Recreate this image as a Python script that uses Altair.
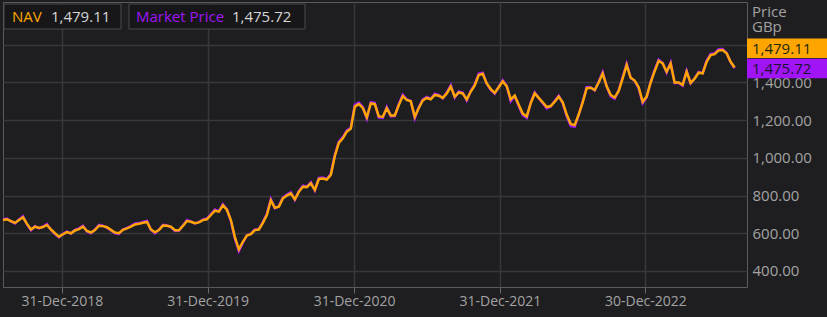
import altair as alt
import pandas as pd

# ---- data ----
nav = [670, 674, 665, 655, 670, 685, 650, 620, 635, 628,
       633, 644, 620, 600, 582, 595, 606, 600, 615, 622,
       635, 612, 604, 617, 640, 638, 632, 618, 604, 600,
       618, 626, 635, 647, 650, 656, 660, 620, 605, 617,
       641, 640, 635, 616, 616, 639, 665, 661, 653, 658,
       670, 674, 697, 720, 715, 748, 725, 670, 580, 515,
       555, 588, 595, 617, 620, 655, 697, 775, 735, 741,
       785, 800, 812, 780, 820, 847, 845, 865, 830, 888,
       890, 885, 910, 1010, 1080, 1104, 1139, 1155, 1272, 1285,
       1265, 1215, 1289, 1285, 1220, 1218, 1263, 1225, 1225, 1280,
       1328, 1307, 1300, 1218, 1265, 1305, 1318, 1311, 1334, 1330,
       1318, 1342, 1378, 1325, 1347, 1342, 1310, 1352, 1385, 1440,
       1446, 1395, 1365, 1345, 1375, 1406, 1380, 1310, 1330, 1282,
       1235, 1220, 1290, 1342, 1318, 1295, 1270, 1275, 1298, 1325,
       1295, 1230, 1180, 1174, 1230, 1295, 1370, 1372, 1360, 1400,
       1448, 1380, 1334, 1320, 1355, 1422, 1493, 1425, 1410, 1375,
       1298, 1325, 1400, 1460, 1515, 1501, 1457, 1500, 1400, 1400,
       1387, 1457, 1398, 1420, 1452, 1448, 1510, 1545, 1550, 1570,
       1572, 1555, 1510, 1479.11]

market = [674, 678, 663, 652, 673, 690, 647, 616, 638, 626,
          636, 649, 618, 596, 578, 597, 609, 598, 618, 626,
          640, 610, 600, 620, 645, 640, 630, 615, 600, 597,
          620, 629, 638, 652, 654, 660, 666, 617, 600, 619,
          645, 642, 633, 612, 613, 642, 670, 663, 651, 660,
          674, 678, 702, 726, 716, 754, 727, 665, 572, 505,
          550, 590, 597, 620, 622, 659, 703, 782, 733, 744,
          790, 806, 818, 777, 824, 853, 848, 871, 826, 894,
          896, 888, 916, 1015, 1086, 1110, 1146, 1160, 1282, 1294,
          1270, 1208, 1296, 1292, 1214, 1212, 1270, 1220, 1222, 1286,
          1336, 1310, 1302, 1210, 1268, 1310, 1324, 1314, 1340, 1334,
          1316, 1347, 1386, 1320, 1352, 1346, 1304, 1356, 1390, 1447,
          1452, 1394, 1360, 1340, 1378, 1412, 1382, 1300, 1328, 1275,
          1226, 1212, 1294, 1348, 1318, 1290, 1262, 1272, 1302, 1330,
          1290, 1222, 1170, 1165, 1228, 1298, 1376, 1375, 1358, 1404,
          1455, 1378, 1326, 1314, 1358, 1428, 1500, 1424, 1408, 1370,
          1290, 1322, 1404, 1466, 1522, 1504, 1452, 1506, 1396, 1398,
          1383, 1462, 1395, 1422, 1456, 1450, 1516, 1552, 1555, 1576,
          1578, 1557, 1508, 1475.72]

start_date = "2018-08-06"
step = "10D"
x_domain = [(2018, 8, 6), (2023, 9, 10)]
tick_dates = [(2018, 12, 31), (2019, 12, 31), (2020, 12, 31), (2021, 12, 31), (2022, 12, 30)]
y_ticks = [400, 600, 800, 1000, 1200, 1400, 1600]
y_domain = [315, 1827]
nav_label = "NAV"
market_label = "Market Price"
nav_last = "1,479.11"
market_last = "1,475.72"
unit_label = "Price\nGBp"

ORANGE = "#ffa500"
PURPLE = "#a014f5"
LABEL = "#a3a3a3"
GRID = "#383839"
FONT = "Open Sans"

dates = pd.date_range(start_date, periods=len(nav), freq=step)
df = pd.DataFrame({"date": dates, "nav": nav, "market": market})

W, H = 744, 285


def dt(t):
    return alt.DateTime(year=t[0], month=t[1], date=t[2])


x_scale = alt.Scale(domain=[dt(t) for t in x_domain])
y_scale = alt.Scale(domain=y_domain, nice=False, zero=False)

x_enc = alt.X(
    "date:T",
    scale=x_scale,
    axis=alt.Axis(
        values=[dt(t) for t in tick_dates],
        format="%d-%b-%Y",
        title=None,
        grid=True,
        gridColor=GRID,
        gridWidth=1.5,
        domain=False,
        tickColor="#6a6a6a",
        tickSize=6,
        labelColor=LABEL,
        labelFontSize=14,
        labelFont=FONT,
        labelPadding=1,
    ),
)

y_axis = alt.Axis(
    orient="right",
    values=y_ticks,
    labelExpr="datum.value >= 1600 ? '' : format(datum.value, ',.2f')",
    title=None,
    grid=True,
    gridColor=GRID,
    gridWidth=1.5,
    ticks=False,
    domain=False,
    labelColor=LABEL,
    labelFontSize=15,
    labelFont=FONT,
    labelPadding=5,
    labelBaseline="middle",
)

base = alt.Chart(df)
market_line = base.mark_line(color=PURPLE, strokeWidth=2.5).encode(
    x=x_enc, y=alt.Y("market:Q", scale=y_scale, axis=y_axis)
)
nav_line = base.mark_line(color=ORANGE, strokeWidth=2.5).encode(
    x="date:T", y="nav:Q"
)

one = pd.DataFrame({"a": [0]})

box1 = alt.Chart(one).mark_rect(fill="#171719", stroke="#4a4a4c", strokeWidth=1).encode(
    x=alt.value(1), x2=alt.value(118), y=alt.value(2), y2=alt.value(27)
)
box2 = alt.Chart(one).mark_rect(fill="#171719", stroke="#4a4a4c", strokeWidth=1).encode(
    x=alt.value(126), x2=alt.value(302), y=alt.value(2), y2=alt.value(27)
)


def txt(x, y, s, color, size=15):
    return alt.Chart(one).mark_text(
        align="left", baseline="alphabetic", font=FONT, fontSize=size, color=color
    ).encode(x=alt.value(x), y=alt.value(y), text=alt.value(s))


leg = [
    txt(9, 20, nav_label, ORANGE),
    txt(48, 20, nav_last, "#d6d6d6"),
    txt(133, 20, market_label, PURPLE),
    txt(229, 20, market_last, "#d6d6d6"),
]

nav_badge_df = pd.DataFrame({"v": [nav[-1]], "t": [nav_last]})
mkt_badge_df = pd.DataFrame({"v": [market[-1]], "t": [market_last]})

nav_badge = alt.Chart(nav_badge_df).mark_rect(color=ORANGE, yOffset=-29, y2Offset=-9.5).encode(
    x=alt.value(W), x2=alt.value(W + 80), y=alt.Y("v:Q", scale=y_scale), y2="v:Q"
)
nav_badge_t = alt.Chart(nav_badge_df).mark_text(
    align="left", baseline="middle", dy=-19, font=FONT, fontSize=15, color="#1d2a12"
).encode(x=alt.value(W + 5), y=alt.Y("v:Q", scale=y_scale), text="t:N")

mkt_badge = alt.Chart(mkt_badge_df).mark_rect(color=PURPLE, yOffset=-9.5, y2Offset=10).encode(
    x=alt.value(W), x2=alt.value(W + 80), y=alt.Y("v:Q", scale=y_scale), y2="v:Q"
)
mkt_badge_t = alt.Chart(mkt_badge_df).mark_text(
    align="left", baseline="middle", dy=0.5, font=FONT, fontSize=15, color="#1a1433"
).encode(x=alt.value(W + 5), y=alt.Y("v:Q", scale=y_scale), text="t:N")

unit = alt.Chart(one).mark_text(
    align="left", baseline="alphabetic", font=FONT, fontSize=15, color=LABEL,
    lineBreak="\n", lineHeight=15
).encode(x=alt.value(W + 5), y=alt.value(15), text=alt.value(unit_label))

chart = alt.layer(
    market_line, nav_line, box1, box2, *leg,
    nav_badge, nav_badge_t, mkt_badge, mkt_badge_t, unit
).properties(
    width=W,
    height=H,
    padding={"left": 3, "top": 2, "right": 80, "bottom": 30},
    autosize=alt.AutoSizeParams(type="none"),
).configure(
    background="#1e1e20"
).configure_view(
    stroke="#5a5a5a", strokeWidth=1
)

chart.save("out.html", embed_options={"renderer": "svg", "actions": False})
